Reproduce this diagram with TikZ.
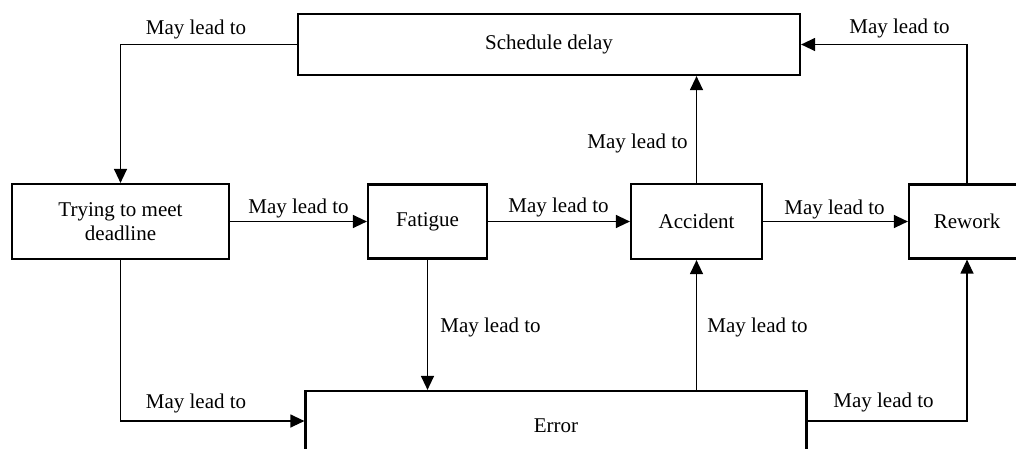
\documentclass[tikz,border=0pt]{standalone}
\usepackage{fontspec}
\setmainfont{Liberation Serif}
\usetikzlibrary{arrows.meta}
\begin{document}
\begin{tikzpicture}[x=1pt,y=-1pt,
  box/.style={draw, line width=2.2pt, fill=white, align=center, inner sep=0pt, font=\fontsize{21}{24}\selectfont},
  conn/.style={line width=1.3pt, -{Triangle[length=14pt,width=13pt]}},
  lbl/.style={font=\fontsize{21}{24}\selectfont, inner sep=0pt}]
\clip (0,0) rectangle (1016,448);
\fill[white] (0,0) rectangle (1016,448);
% boxes
\node[box, minimum width=502pt, minimum height=61pt] (sched) at (549,44.5) {Schedule delay};
\node[box, minimum width=217pt, minimum height=75pt] (trying) at (120.5,221.5) {Trying to meet\\deadline};
\node[box, minimum width=119pt, minimum height=74pt] (fatigue) at (427.5,221.5) {Fatigue};
\node[box, minimum width=131pt, minimum height=75pt] (accident) at (696.5,221.5) {Accident};
\node[box, minimum width=116pt, minimum height=74pt] (rework) at (967,221.5) {Rework};
\node[box, minimum width=501pt, minimum height=70pt] (error) at (556,426) {Error};
% connectors
\draw[conn] (sched.west) -| (trying.north);
\draw[conn] (trying.east) -- (fatigue.west);
\draw[conn] (fatigue.east) -- (accident.west);
\draw[conn] (accident.east) -- (rework.west);
\draw[conn] (rework.north) |- (sched.east);
\draw[conn] (accident.north) -- (accident.north |- sched.south);
\draw[conn] (trying.south) |- ([yshift=5pt]error.west);
\draw[conn] (fatigue.south) -- (fatigue.south |- error.north);
\draw[conn] (accident.south |- error.north) -- (accident.south);
\draw[conn] ([yshift=5pt]error.east) -| (rework.south);
% labels
\node[lbl] (l1) at (196,29) {May lead to};
\node[lbl] (l2) at (899.5,28) {May lead to};
\node[lbl] (l3) at (637.5,143) {May lead to};
\node[lbl] (l4) at (298.5,208) {May lead to};
\node[lbl] (l5) at (558.5,207) {May lead to};
\node[lbl] (l6) at (834.5,209) {May lead to};
\node[lbl] (l7) at (490.5,327) {May lead to};
\node[lbl] (l8) at (757.5,327) {May lead to};
\node[lbl] (l9) at (196,403) {May lead to};
\node[lbl] (l10) at (883.5,402) {May lead to};
\end{tikzpicture}
\end{document}
